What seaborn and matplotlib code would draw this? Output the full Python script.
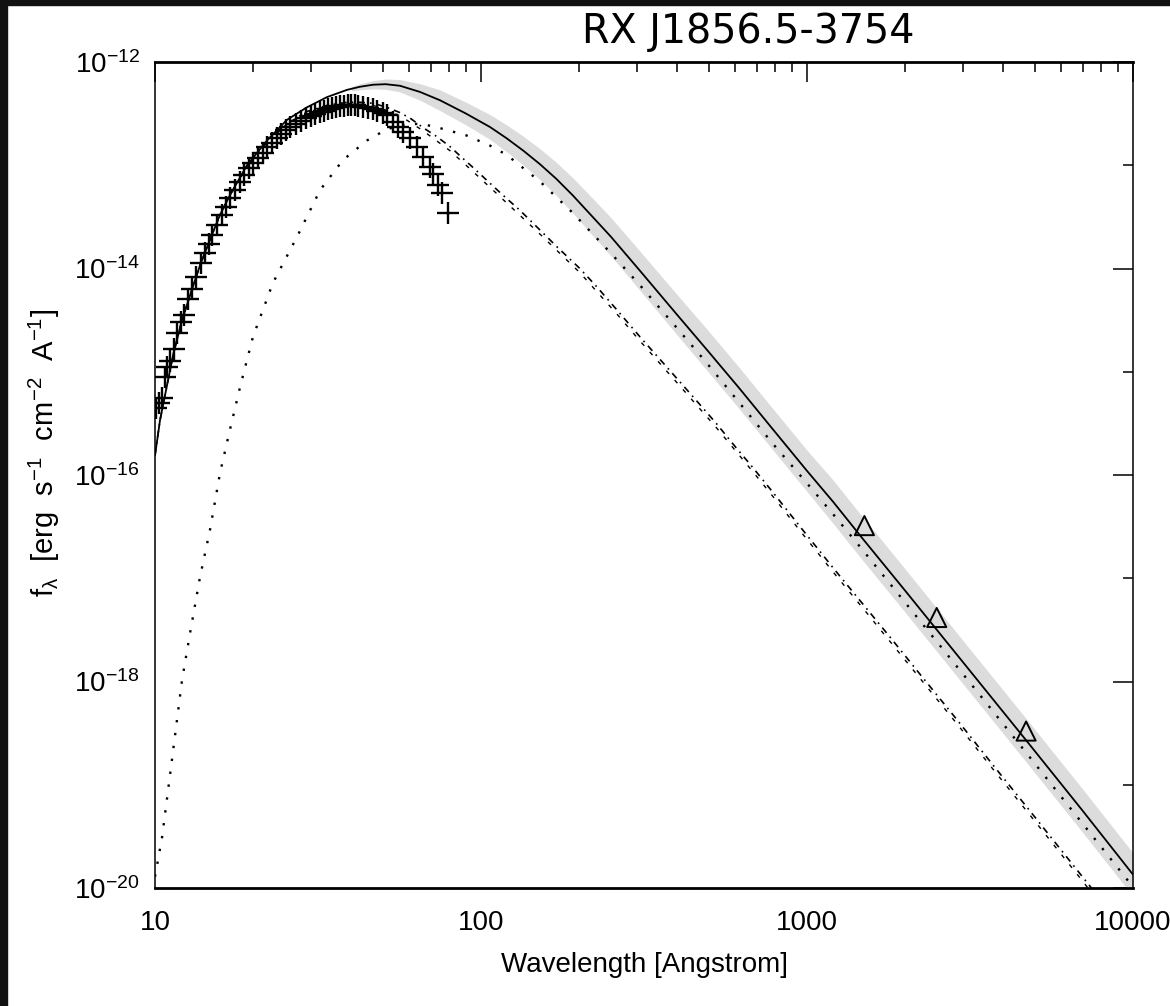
import numpy as np
import pandas as pd
import matplotlib
matplotlib.use("Agg")
import matplotlib.pyplot as plt
from matplotlib.patches import Rectangle
from matplotlib.ticker import FixedLocator, FixedFormatter, NullFormatter
import seaborn as sns

# ---------------- data ----------------
# total model (solid line), wavelength in Angstrom, log10 flux
total_wl = [10, 10.36, 10.73, 11.36, 12.1, 12.81, 13.74, 14.75, 15.83, 16.98, 19.15,
            22.06, 25.4, 29.2, 33.7, 38.8, 42.5, 46.7, 51, 56.4, 65, 74.8, 90, 106.6,
            120, 135, 151.7, 170, 191, 220, 250, 307, 400, 494, 620, 787, 1000, 1203,
            1476, 2000, 2473, 3400, 4731, 7000, 10000]
total_log = [-15.81, -15.47, -15.23, -14.84, -14.50, -14.26, -13.97, -13.72, -13.48,
             -13.29, -13.00, -12.76, -12.56, -12.44, -12.34, -12.27, -12.24, -12.22,
             -12.215, -12.23, -12.29, -12.37, -12.50, -12.63, -12.74, -12.86, -12.99,
             -13.13, -13.29, -13.50, -13.69, -14.02, -14.45, -14.79, -15.16, -15.56,
             -15.96, -16.26, -16.61, -17.12, -17.48, -18.02, -18.58, -19.25, -19.87]

# uncertainty band around the total model
band_wl = [40, 42.5, 46.7, 51, 56.4, 65, 74.8, 90, 106.6, 120, 135, 151.7, 170, 191,
           220, 250, 307, 400, 494, 620, 787, 1000, 1203, 1476, 2000, 2473, 3400, 4731,
           7000, 10000]
band_mid_log = [-12.26, -12.24, -12.22, -12.215, -12.23, -12.29, -12.37, -12.50, -12.63,
                -12.74, -12.86, -12.99, -13.13, -13.29, -13.50, -13.69, -14.02, -14.45,
                -14.79, -15.16, -15.56, -15.96, -16.26, -16.61, -17.12, -17.48, -18.02,
                -18.58, -19.25, -19.87]
band_half = [0.02, 0.03, 0.04, 0.05, 0.06, 0.08, 0.10, 0.11, 0.12, 0.13, 0.14, 0.15,
             0.16, 0.17, 0.18, 0.185, 0.19, 0.195, 0.20, 0.20, 0.20, 0.20, 0.21, 0.21,
             0.21, 0.21, 0.21, 0.21, 0.21, 0.21]

# cool component (dotted)
cool_wl = [10, 10.51, 11.27, 12.10, 12.81, 13.74, 14.75, 15.83, 16.98, 18.23, 19.98,
           23.0, 27.3, 32.1, 37.7, 44.7, 51.5, 59.3, 66, 74.8, 90, 106.6, 120, 152,
           191, 250, 307, 400, 494, 620, 787, 1000, 1203, 1476, 2000, 2473, 3400,
           4731, 7000, 10000]
cool_log = [-19.89, -19.51, -18.76, -17.99, -17.53, -16.99, -16.53, -15.98, -15.56,
            -15.15, -14.66, -14.14, -13.69, -13.24, -12.95, -12.76, -12.65, -12.60,
            -12.60, -12.64, -12.71, -12.81, -12.90, -13.16, -13.46, -13.85, -14.16,
            -14.58, -14.92, -15.30, -15.70, -16.08, -16.38, -16.72, -17.235, -17.595,
            -18.135, -18.70, -19.375, -19.99]

# hot component (dash-dot)
hot_wl = [10, 10.36, 10.73, 11.36, 12.1, 12.81, 13.74, 14.75, 15.83, 16.98, 19.15,
          22.06, 25.4, 29.2, 33.7, 38.8, 42.5, 46.7, 51.5, 56.4, 61, 66.0, 73, 80.4,
          87, 94.4, 114, 132, 152, 171, 201, 227, 261, 307, 354, 408, 470, 530, 593,
          683, 787, 952, 1203, 1529, 1798, 2222, 2884, 3722, 4933, 6871, 7500]
hot_log = [-15.81, -15.47, -15.23, -14.84, -14.50, -14.26, -13.97, -13.72, -13.48,
           -13.29, -13.01, -12.78, -12.60, -12.48, -12.42, -12.39, -12.39, -12.40,
           -12.44, -12.49, -12.55, -12.63, -12.72, -12.82, -12.92, -13.02, -13.26,
           -13.44, -13.63, -13.79, -14.00, -14.18, -14.40, -14.66, -14.88, -15.10,
           -15.32, -15.51, -15.70, -15.93, -16.17, -16.50, -16.90, -17.30, -17.57,
           -17.93, -18.37, -18.81, -19.29, -19.86, -20.01]

# second hot model (dashed)
hot2_wl = [38.8, 46.7, 56.4, 66.0, 80.4, 94.4, 114, 152, 201, 261, 307, 408, 530,
           683, 787, 952, 1203, 1529, 2222, 2884, 3722, 4933, 6871, 7400]
hot2_log = [-12.40, -12.42, -12.52, -12.66, -12.86, -13.06, -13.30, -13.67, -14.04,
            -14.44, -14.70, -15.14, -15.55, -15.97, -16.21, -16.54, -16.94, -17.34,
            -17.97, -18.41, -18.85, -19.33, -19.90, -20.03]

# X-ray data (plus signs)
xray_wl = [10.1, 10.3, 10.5, 10.7, 10.9, 11.1, 11.4, 11.7, 12.0, 12.3, 12.6, 13.0,
           13.4, 13.8, 14.2, 14.6, 15.0, 15.5, 16.0, 16.5, 17.0, 17.6, 18.2, 18.8,
           19.4, 20.0, 20.7, 21.4, 22.1, 22.8, 23.6, 24.4, 25.2, 26.0, 27.0, 28.0,
           29.0, 30.0, 31.0, 32.0, 33.0, 34.0, 35.0, 36.0, 37.0, 38.0, 39.0, 40.0,
           41.0, 42.0, 43.5, 45.0, 46.5, 48.0, 50.0, 51.5, 53.7, 55.5, 57.6, 60.6,
           63.6, 66.4, 69.8, 71.3, 73.9, 75.9, 79.2]
xray_log = [-15.35, -15.30, -15.25, -15.05, -14.95, -14.90, -14.78, -14.62, -14.52,
            -14.45, -14.30, -14.20, -14.08, -13.95, -13.85, -13.76, -13.68, -13.58,
            -13.48, -13.40, -13.32, -13.24, -13.16, -13.09, -13.03, -12.98, -12.93,
            -12.88, -12.82, -12.78, -12.74, -12.70, -12.66, -12.63, -12.60, -12.57,
            -12.54, -12.52, -12.50, -12.48, -12.47, -12.46, -12.45, -12.44, -12.43,
            -12.43, -12.42, -12.42, -12.42, -12.43, -12.44, -12.45, -12.46, -12.47,
            -12.49, -12.51, -12.58, -12.63, -12.68, -12.74, -12.82, -12.92, -13.02,
            -13.08, -13.19, -13.27, -13.46]

# optical / UV points (triangles)
opt_wl = [1500, 2500, 4700]
opt_log = [-16.49, -17.38, -18.48]

x_ticks = [10, 100, 1000, 10000]
x_ticklabels = ["10", "100", "1000", "10000"]
y_ticks = [1e-20, 1e-18, 1e-16, 1e-14, 1e-12]
y_ticklabels = [r"$\mathregular{10^{-20}}$", r"$\mathregular{10^{-18}}$",
                r"$\mathregular{10^{-16}}$", r"$\mathregular{10^{-14}}$",
                r"$\mathregular{10^{-12}}$"]
y_minor = [1e-19, 1e-17, 1e-15, 1e-13]

title = "RX J1856.5-3754"
xlabel = "Wavelength [Angstrom]"
ylabel = (r"f$_{\mathregular{\lambda}}$  [erg  s$^{\mathregular{-1}}$  "
          r"cm$^{\mathregular{-2}}$  A$^{\mathregular{-1}}$]")

# ---------------- style ----------------
sns.set_style("white")
plt.rcParams["font.family"] = ["Liberation Sans", "DejaVu Sans"]
plt.rcParams["mathtext.fontset"] = "custom"
plt.rcParams["mathtext.rm"] = "Liberation Sans"
plt.rcParams["mathtext.it"] = "Liberation Sans:italic"
plt.rcParams["mathtext.default"] = "regular"
for key in ["text.color", "axes.labelcolor", "xtick.color", "ytick.color"]:
    plt.rcParams[key] = "black"

W, H = 1170, 1006
fig = plt.figure(figsize=(W / 100, H / 100), dpi=100)
fig.patch.set_facecolor("white")
ax = fig.add_axes([155 / W, 1 - 888 / H, 978 / W, 826 / H])
ax.set_facecolor("white")


def df(wl, lg):
    return pd.DataFrame({"wl": np.asarray(wl, float), "f": 10 ** np.asarray(lg, float)})


ax.set_xscale("log")
ax.set_yscale("log")

bm = np.asarray(band_mid_log)
bh = np.asarray(band_half)
ax.fill_between(band_wl, 10 ** (bm - bh), 10 ** (bm + bh), color="#dcdcdc", lw=0, zorder=1)

sns.lineplot(data=df(cool_wl, cool_log), x="wl", y="f", ax=ax, color="black",
             lw=1.7, linestyle=(0, (1, 4.5)), sort=False, zorder=3)
sns.lineplot(data=df(hot_wl, hot_log), x="wl", y="f", ax=ax, color="black",
             lw=1.2, linestyle=(0, (4, 3, 1, 3)), sort=False, zorder=3)
sns.lineplot(data=df(hot2_wl, hot2_log), x="wl", y="f", ax=ax, color="black",
             lw=1.0, linestyle=(0, (3, 6)), sort=False, zorder=3)
sns.lineplot(data=df(total_wl, total_log), x="wl", y="f", ax=ax, color="black",
             lw=1.3, sort=False, zorder=4)

sns.scatterplot(data=df(xray_wl, xray_log), x="wl", y="f", ax=ax, marker="+",
                s=250, color="black", linewidth=1.7, zorder=5)
sns.scatterplot(data=df(opt_wl, opt_log), x="wl", y="f", ax=ax, marker="^",
                s=190, facecolors="none", edgecolors="black", linewidth=1.4, zorder=6)

ax.set_xlim(10, 10000)
ax.set_ylim(1e-20, 1e-12)

ax.xaxis.set_major_locator(FixedLocator(x_ticks))
ax.xaxis.set_major_formatter(FixedFormatter(x_ticklabels))
ax.xaxis.set_minor_formatter(NullFormatter())
ax.yaxis.set_major_locator(FixedLocator(y_ticks))
ax.yaxis.set_major_formatter(FixedFormatter(y_ticklabels))
ax.yaxis.set_minor_locator(FixedLocator(y_minor))
ax.yaxis.set_minor_formatter(NullFormatter())

ax.tick_params(which="both", direction="in", top=True, right=True, color="black",
               width=1.1)
ax.tick_params(which="major", length=14.5)
ax.tick_params(which="minor", length=7.5)
ax.tick_params(axis="x", which="major", labelsize=20, pad=16)
ax.tick_params(axis="y", which="major", labelsize=20, pad=11)

for side, lw in [("top", 2.0), ("bottom", 2.0), ("left", 1.1), ("right", 1.1)]:
    ax.spines[side].set_visible(True)
    ax.spines[side].set_color("black")
    ax.spines[side].set_linewidth(lw)

ax.set_xlabel(xlabel, fontsize=20)
ax.set_ylabel(ylabel, fontsize=21)
ax.xaxis.set_label_coords(0.501, -0.093)
ax.xaxis.label.set_va("center")
ax.yaxis.set_label_coords(-0.113, 0.527)
ax.yaxis.label.set_va("center")

fig.text(748 / W, 1 - 43 / H, title, ha="center", va="baseline", fontsize=28.5,
         family="DejaVu Sans", color="black")

# dark frame strips at the left and top edges
fig.patches.append(Rectangle((0, 0), 7 / W, 1, transform=fig.transFigure,
                             color="#111111", zorder=10))
fig.patches.append(Rectangle((0, 1 - 5 / H), 1, 5 / H, transform=fig.transFigure,
                             color="#111111", zorder=10))

fig.savefig("out.png", dpi=100, facecolor=fig.get_facecolor())
